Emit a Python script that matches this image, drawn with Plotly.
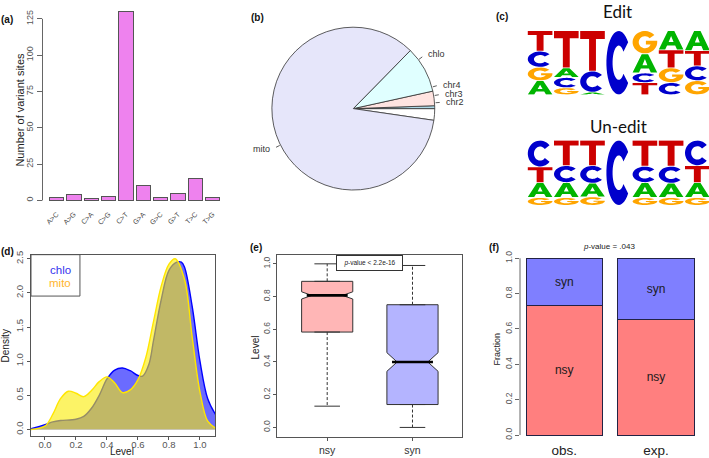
import math
import numpy as np
import plotly.graph_objects as go

W, H = 709, 458
FONT = "Liberation Sans, Arial, sans-serif"
TICKC = "#555555"
TXTC = "#333333"


def fx(p):
    return p / W


def fy(p):
    return 1 - p / H


# ---------------- data ----------------
# (a) mutation types
mut_labels = ["A>C", "A>G", "C>A", "C>G", "C>T", "G>A", "G>C", "G>T", "T>C", "T>G"]
mut_counts = [2, 4, 1, 3, 130, 10, 2, 5, 15, 2]
a_yticks = [0, 25, 50, 75, 100, 125]

# (b) genomic location
pie_labels = ["chr2", "chr3", "chr4", "chlo", "mito"]
pie_counts = [4, 1, 5, 16, 148]
pie_colors = ["white", "lightblue", "mistyrose", "lightcyan", "lavender"]

# (c) sequence logos: probabilities per position and stacking order (bottom -> top)
edit_A = [0.22, 0.15, 0.04, 0.00, 0.30, 0.30, 0.31]
edit_C = [0.25, 0.16, 0.33, 1.00, 0.15, 0.19, 0.23]
edit_G = [0.21, 0.11, 0.00, 0.00, 0.36, 0.23, 0.22]
edit_T = [0.32, 0.58, 0.63, 0.00, 0.19, 0.28, 0.24]
edit_order = ["AGCT", "GCAT", "ACT", "C", "TCAG", "CGTA", "GCTA"]
unedit_A = [0.23, 0.23, 0.21, 0.00, 0.23, 0.22, 0.23]
unedit_C = [0.41, 0.26, 0.27, 1.00, 0.25, 0.26, 0.39]
unedit_G = [0.12, 0.12, 0.13, 0.00, 0.12, 0.12, 0.12]
unedit_T = [0.24, 0.39, 0.39, 0.00, 0.40, 0.40, 0.26]
unedit_order = ["GATC", "GACT", "GACT", "C", "GACT", "GACT", "GATC"]
logo_colors = {"A": "#00B400", "C": "#0000CC", "G": "#FFA500", "T": "#CC0000"}

# (d) density of editing level
chlo_x = [-0.09, 0.0, 0.05, 0.1, 0.2, 0.25, 0.3, 0.35, 0.4, 0.45, 0.5, 0.55, 0.6, 0.63,
          0.67, 0.7, 0.75, 0.8, 0.85, 0.88, 0.9, 0.95, 1.0, 1.05, 1.1]
chlo_y = [0.01, 0.07, 0.11, 0.13, 0.15, 0.19, 0.31, 0.50, 0.74, 0.87, 0.90, 0.86, 0.79, 0.78,
          0.95, 1.30, 1.90, 2.33, 2.45, 2.45, 2.38, 1.80, 1.00, 0.45, 0.22]
mito_x = [-0.09, 0.0, 0.05, 0.1, 0.15, 0.2, 0.25, 0.3, 0.35, 0.4, 0.45, 0.5, 0.55, 0.6,
          0.65, 0.7, 0.75, 0.8, 0.84, 0.9, 0.95, 1.0, 1.05, 1.1]
mito_y = [0.0, 0.05, 0.22, 0.45, 0.56, 0.53, 0.48, 0.57, 0.70, 0.77, 0.68, 0.54, 0.58, 0.73,
          1.05, 1.58, 2.10, 2.42, 2.50, 2.20, 1.35, 0.55, 0.12, 0.02]
d_xticks = [0.0, 0.2, 0.4, 0.6, 0.8, 1.0]
d_yticks = [0.0, 0.5, 1.0, 1.5, 2.0, 2.5]

# (e) boxplot of level
box_groups = ["nsy", "syn"]
box_pos = [1, 2]
box_q1 = [0.583, 0.14]
box_med = [0.807, 0.40]
box_q3 = [0.893, 0.75]
box_lo = [0.13, 0.0]
box_hi = [1.0, 0.99]
box_notch = [0.022, 0.057]
box_colors = ["#FFB6B6", "#B4B4FF"]
e_yticks = [0.0, 0.2, 0.4, 0.6, 0.8, 1.0]

# (f) fractions
f_groups = ["obs.", "exp."]
f_pos = [0.7, 1.9]
f_nsy = [0.732, 0.655]
f_syn = [0.268, 0.345]
f_yticks = [0.0, 0.2, 0.4, 0.6, 0.8, 1.0]

# ---------------- figure ----------------
fig = go.Figure()
shapes = []
annos = []

# (a) bar chart
a_pos = [0.7 + 1.2 * i for i in range(len(mut_counts))]
fig.add_trace(go.Bar(x=a_pos, y=mut_counts, width=1.0, xaxis="x", yaxis="y",
                     marker=dict(color="violet", line=dict(color="#555555", width=1)),
                     showlegend=False, hoverinfo="skip"))
shapes.append(dict(type="line", xref="x domain", yref="y", x0=0, x1=0,
                   y0=min(a_yticks), y1=max(a_yticks), line=dict(color="#666666", width=1)))

# (b) pie
cx, cy, r = 353.3, 106.0, 82.5
fig.add_trace(go.Pie(labels=pie_labels, values=pie_counts, sort=False,
                     direction="counterclockwise", rotation=90, textinfo="none",
                     marker=dict(colors=pie_colors, line=dict(color="#333333", width=0.8)),
                     domain=dict(x=[fx(cx - r), fx(cx + r)], y=[fy(cy + r), fy(cy - r)]),
                     showlegend=False, hoverinfo="skip"))
tot = sum(pie_counts)
cum = 0
for lab, v in zip(pie_labels, pie_counts):
    mid = (cum + v / 2) / tot
    cum += v
    t = 2 * math.pi * mid
    c, s = math.cos(t), math.sin(t)
    shapes.append(dict(type="line", xref="paper", yref="paper",
                       x0=fx(cx + r * c), y0=fy(cy - r * s),
                       x1=fx(cx + 1.05 * r * c), y1=fy(cy - 1.05 * r * s),
                       line=dict(color="#333333", width=0.8)))
    annos.append(dict(text=lab, xref="paper", yref="paper",
                      x=fx(cx + 1.1 * r * c), y=fy(cy - 1.1 * r * s),
                      xanchor="left" if c > 0 else "right", yanchor="middle",
                      showarrow=False, font=dict(size=9, color=TXTC, family=FONT)))


# (c) sequence logos
def arc(cxu, cyu, rx, ry, a0, a1, n):
    return [(cxu + rx * math.cos(math.radians(a)), cyu + ry * math.sin(math.radians(a)))
            for a in np.linspace(a0, a1, n)]


def unit_glyph(letter):
    if letter == "T":
        return [[(0, 1), (1, 1), (1, 0.8), (0.64, 0.8), (0.64, 0), (0.36, 0), (0.36, 0.8), (0, 0.8)]]
    if letter == "A":
        return [[(0, 0), (0.37, 1), (0.63, 1), (1, 0), (0.74, 0), (0.665, 0.22), (0.335, 0.22), (0.26, 0)],
                [(0.40, 0.40), (0.60, 0.40), (0.5, 0.73)]]
    if letter == "C":
        return [arc(0.5, 0.5, 0.5, 0.5, 40, 320, 36) + arc(0.5, 0.5, 0.25, 0.27, 320, 40, 28)]
    return [arc(0.5, 0.5, 0.5, 0.5, 40, 360, 36) + [(1.0, 0.56), (0.54, 0.56), (0.54, 0.40)]
            + arc(0.5, 0.5, 0.25, 0.27, 338, 40, 28)]


def glyph_path(letter, xc, hw, y0, y1):
    parts = []
    for poly in unit_glyph(letter):
        pts = ["%.4f,%.4f" % (xc - hw + u * 2 * hw, y0 + v * (y1 - y0)) for u, v in poly]
        parts.append("M " + " L ".join(pts) + " Z")
    return " ".join(parts)


def add_logo(probs, order, xref, yref):
    for k, col_order in enumerate(order):
        base = 0.0
        for letter in col_order:
            p = probs[letter][k]
            if p <= 0:
                continue
            shapes.append(dict(type="path", xref=xref, yref=yref,
                               path=glyph_path(letter, k + 1, 0.47, base + 0.006, base + p - 0.006),
                               fillcolor=logo_colors[letter], line=dict(width=0),
                               fillrule="evenodd", layer="above"))
            base += p


add_logo({"A": edit_A, "C": edit_C, "G": edit_G, "T": edit_T}, edit_order, "x2", "y2")
add_logo({"A": unedit_A, "C": unedit_C, "G": unedit_G, "T": unedit_T}, unedit_order, "x3", "y3")
for ax in ("2", "3"):
    fig.add_trace(go.Scatter(x=[1], y=[0.5], mode="markers", marker=dict(opacity=0),
                             xaxis="x" + ax, yaxis="y" + ax, showlegend=False, hoverinfo="skip"))
annos.append(dict(text="Edit", xref="paper", yref="paper", x=fx(617.5), y=fy(7.5),
                  xanchor="center", yanchor="middle", showarrow=False,
                  font=dict(size=17, color="#111111", family="Lato, Open Sans, sans-serif")))
annos.append(dict(text="Un-edit", xref="paper", yref="paper", x=fx(618), y=fy(124.5),
                  xanchor="center", yanchor="middle", showarrow=False,
                  font=dict(size=17, color="#111111", family="Lato, Open Sans, sans-serif")))

# (d) density
fig.add_trace(go.Scatter(x=chlo_x, y=chlo_y, mode="lines", line=dict(color="#0000FF", width=1.4, shape="spline"),
                         fill="tozeroy", fillcolor="rgba(0,0,255,0.58)", xaxis="x4", yaxis="y4",
                         showlegend=False, hoverinfo="skip"))
fig.add_trace(go.Scatter(x=mito_x, y=mito_y, mode="lines", line=dict(color="#FFE600", width=1.4, shape="spline"),
                         fill="tozeroy", fillcolor="rgba(250,235,0,0.6)", xaxis="x4", yaxis="y4",
                         showlegend=False, hoverinfo="skip"))
shapes.append(dict(type="rect", xref="x4 domain", yref="y4 domain", x0=0, x1=0.266, y0=0.772, y1=1,
                   line=dict(color="#555555", width=1), fillcolor="rgba(0,0,0,0)"))
annos.append(dict(text="chlo", xref="x4 domain", yref="y4 domain", x=0.228, y=0.918, xanchor="right",
                  yanchor="middle", showarrow=False, font=dict(size=11.5, color="#3333EE", family=FONT)))
annos.append(dict(text="mito", xref="x4 domain", yref="y4 domain", x=0.228, y=0.842, xanchor="right",
                  yanchor="middle", showarrow=False, font=dict(size=11.5, color="#FFB52E", family=FONT)))

# (e) boxplot
for i in range(len(box_groups)):
    pos = box_pos[i]
    fig.add_trace(go.Box(x=[pos], q1=[box_q1[i]], median=[box_med[i]], q3=[box_q3[i]],
                         lowerfence=[box_q1[i]], upperfence=[box_q3[i]], notchspan=[box_notch[i]],
                         notched=True, notchwidth=0.2, width=0.6, boxpoints=False,
                         fillcolor=box_colors[i], line=dict(color="#333333", width=1),
                         xaxis="x5", yaxis="y5", showlegend=False, hoverinfo="skip"))
    for a, b in ((box_q3[i], box_hi[i]), (box_q1[i], box_lo[i])):
        fig.add_trace(go.Scatter(x=[pos, pos], y=[a, b], mode="lines",
                                 line=dict(color="#333333", width=1, dash="3px,2px"),
                                 xaxis="x5", yaxis="y5", showlegend=False, hoverinfo="skip"))
    for v in (box_hi[i], box_lo[i]):
        fig.add_trace(go.Scatter(x=[pos - 0.15, pos + 0.15], y=[v, v], mode="lines",
                                 line=dict(color="#333333", width=1),
                                 xaxis="x5", yaxis="y5", showlegend=False, hoverinfo="skip"))
    fig.add_trace(go.Scatter(x=[pos - 0.24, pos + 0.24], y=[box_med[i], box_med[i]], mode="lines",
                             line=dict(color="#000000", width=2.6),
                             xaxis="x5", yaxis="y5", showlegend=False, hoverinfo="skip"))
annos.append(dict(text="<i>p</i>-value &lt; 2.2e-16", xref="x5", yref="y5 domain", x=1.5, y=1,
                  xanchor="center", yanchor="top", showarrow=False, width=60, height=9,
                  bordercolor="#333333", borderwidth=1, borderpad=2.5, bgcolor="white",
                  font=dict(size=6.5, color="#222222", family=FONT)))

# (f) stacked fractions
fig.add_trace(go.Bar(x=f_pos, y=f_nsy, width=1.0, text=["nsy"] * len(f_pos), textposition="inside",
                     insidetextanchor="middle", textfont=dict(size=12, color="#1a1a1a", family=FONT),
                     marker=dict(color="#FF7F7F", line=dict(color="#222244", width=1)),
                     xaxis="x6", yaxis="y6", showlegend=False, hoverinfo="skip"))
fig.add_trace(go.Bar(x=f_pos, y=f_syn, width=1.0, text=["syn"] * len(f_pos), textposition="inside",
                     insidetextanchor="middle", textfont=dict(size=12, color="#1a1a1a", family=FONT),
                     marker=dict(color="#7F7FFF", line=dict(color="#222244", width=1)),
                     xaxis="x6", yaxis="y6", showlegend=False, hoverinfo="skip"))
shapes.append(dict(type="line", xref="x6 domain", yref="y6", x0=0, x1=0,
                   y0=min(f_yticks), y1=max(f_yticks), line=dict(color="#666666", width=1)))
annos.append(dict(text="<i>p</i>-value = .043", xref="paper", yref="paper", x=fx(609), y=fy(246),
                  xanchor="center", yanchor="middle", showarrow=False,
                  font=dict(size=8, color="#222222", family=FONT)))


def title_anno(text, x, y, size, angle=0):
    annos.append(dict(text=text, xref="paper", yref="paper", x=fx(x), y=fy(y), textangle=angle,
                      xanchor="center", yanchor="middle", showarrow=False,
                      font=dict(size=size, color="#222222", family=FONT)))


title_anno("Number of variant sites", 20, 107, 11, -90)
title_anno("Density", 5, 347, 10, -90)
title_anno("Level", 122, 453.5, 10)
title_anno("Level", 255, 348, 10, -90)
title_anno("Fraction", 497, 350, 9, -90)

for lab, x, y in (("(a)", 7, 15.5), ("(b)", 257, 14), ("(c)", 502, 13),
                  ("(d)", 7, 251), ("(e)", 256, 246.5), ("(f)", 494, 247)):
    annos.append(dict(text="<b>%s</b>" % lab, xref="paper", yref="paper", x=fx(x), y=fy(y),
                      xanchor="center", yanchor="middle", showarrow=False,
                      font=dict(size=10, color="#111111", family=FONT)))

base_ax = dict(showgrid=False, zeroline=False)
boxed = dict(showline=True, mirror=True, linecolor="#555555", linewidth=1,
             ticks="outside", ticklen=3, tickcolor="#555555")

fig.update_layout(
    width=W, height=H, autosize=False, margin=dict(l=0, r=0, t=0, b=0, pad=0),
    paper_bgcolor="white", plot_bgcolor="white", barmode="stack",
    font=dict(family=FONT, color=TXTC),
    shapes=shapes, annotations=annos,
    xaxis=dict(base_ax, domain=[fx(42.5), fx(226.8)], range=[-0.272, 12.472], anchor="y",
               tickvals=a_pos, ticktext=mut_labels, tickangle=-45, showline=False, ticks="",
               tickfont=dict(size=7, color="#444444")),
    yaxis=dict(base_ax, domain=[fy(206.7), 1], range=[-5.2, 135.2], anchor="x",
               tickvals=a_yticks, tickangle=-90, ticks="outside", ticklen=5, tickcolor="#666666",
               showline=False, tickfont=dict(size=9, color=TICKC)),
    xaxis2=dict(base_ax, domain=[fx(527), 1], range=[0.5, 7.446], anchor="y2",
                showticklabels=False, showline=False, ticks=""),
    yaxis2=dict(base_ax, domain=[fy(92), fy(27)], range=[0, 1], anchor="x2",
                showticklabels=False, showline=False, ticks=""),
    xaxis3=dict(base_ax, domain=[fx(527), 1], range=[0.5, 7.446], anchor="y3",
                showticklabels=False, showline=False, ticks=""),
    yaxis3=dict(base_ax, domain=[fy(204), fy(138)], range=[0, 1], anchor="x3",
                showticklabels=False, showline=False, ticks=""),
    xaxis4=dict(base_ax, **boxed, domain=[fx(31), fx(215)], range=[-0.0903, 1.097], anchor="y4",
                tickvals=d_xticks, tickformat=".1f", ticklabelstandoff=-4,
                tickfont=dict(size=9.5, color=TICKC)),
    yaxis4=dict(base_ax, **boxed, domain=[fy(438), fy(254)], range=[-0.1, 2.56], anchor="x4",
                tickvals=d_yticks, tickformat=".1f", tickangle=-90, tickfont=dict(size=9.5, color=TICKC)),
    xaxis5=dict(base_ax, **boxed, domain=[fx(277.3), fx(461.7)], range=[0.415, 2.577], anchor="y5",
                tickvals=box_pos, ticktext=box_groups, tickfont=dict(size=10.5, color=TXTC)),
    yaxis5=dict(base_ax, **boxed, domain=[fy(439), fy(254)], range=[-0.06, 1.056], anchor="x5",
                tickvals=e_yticks, tickformat=".1f", tickangle=-90, tickfont=dict(size=8.5, color=TICKC)),
    xaxis6=dict(base_ax, domain=[fx(520), fx(701)], range=[0.1216, 2.488], anchor="y6",
                tickvals=f_pos, ticktext=f_groups, showline=False, ticks="", ticklabelstandoff=-2,
                tickfont=dict(size=13.5, color="#222222")),
    yaxis6=dict(base_ax, domain=[fy(443.9), fy(250.5)], range=[-0.04, 1.04], anchor="x6",
                tickvals=f_yticks, tickformat=".1f", tickangle=-90, ticks="outside", ticklen=4,
                tickcolor="#666666", showline=False, tickfont=dict(size=8.5, color=TICKC)),
)

fig.write_html("out.html", config={"displayModeBar": False},
               post_script="document.body.style.margin='0';document.body.style.padding='0';"
                           "document.documentElement.style.overflow='hidden';")
